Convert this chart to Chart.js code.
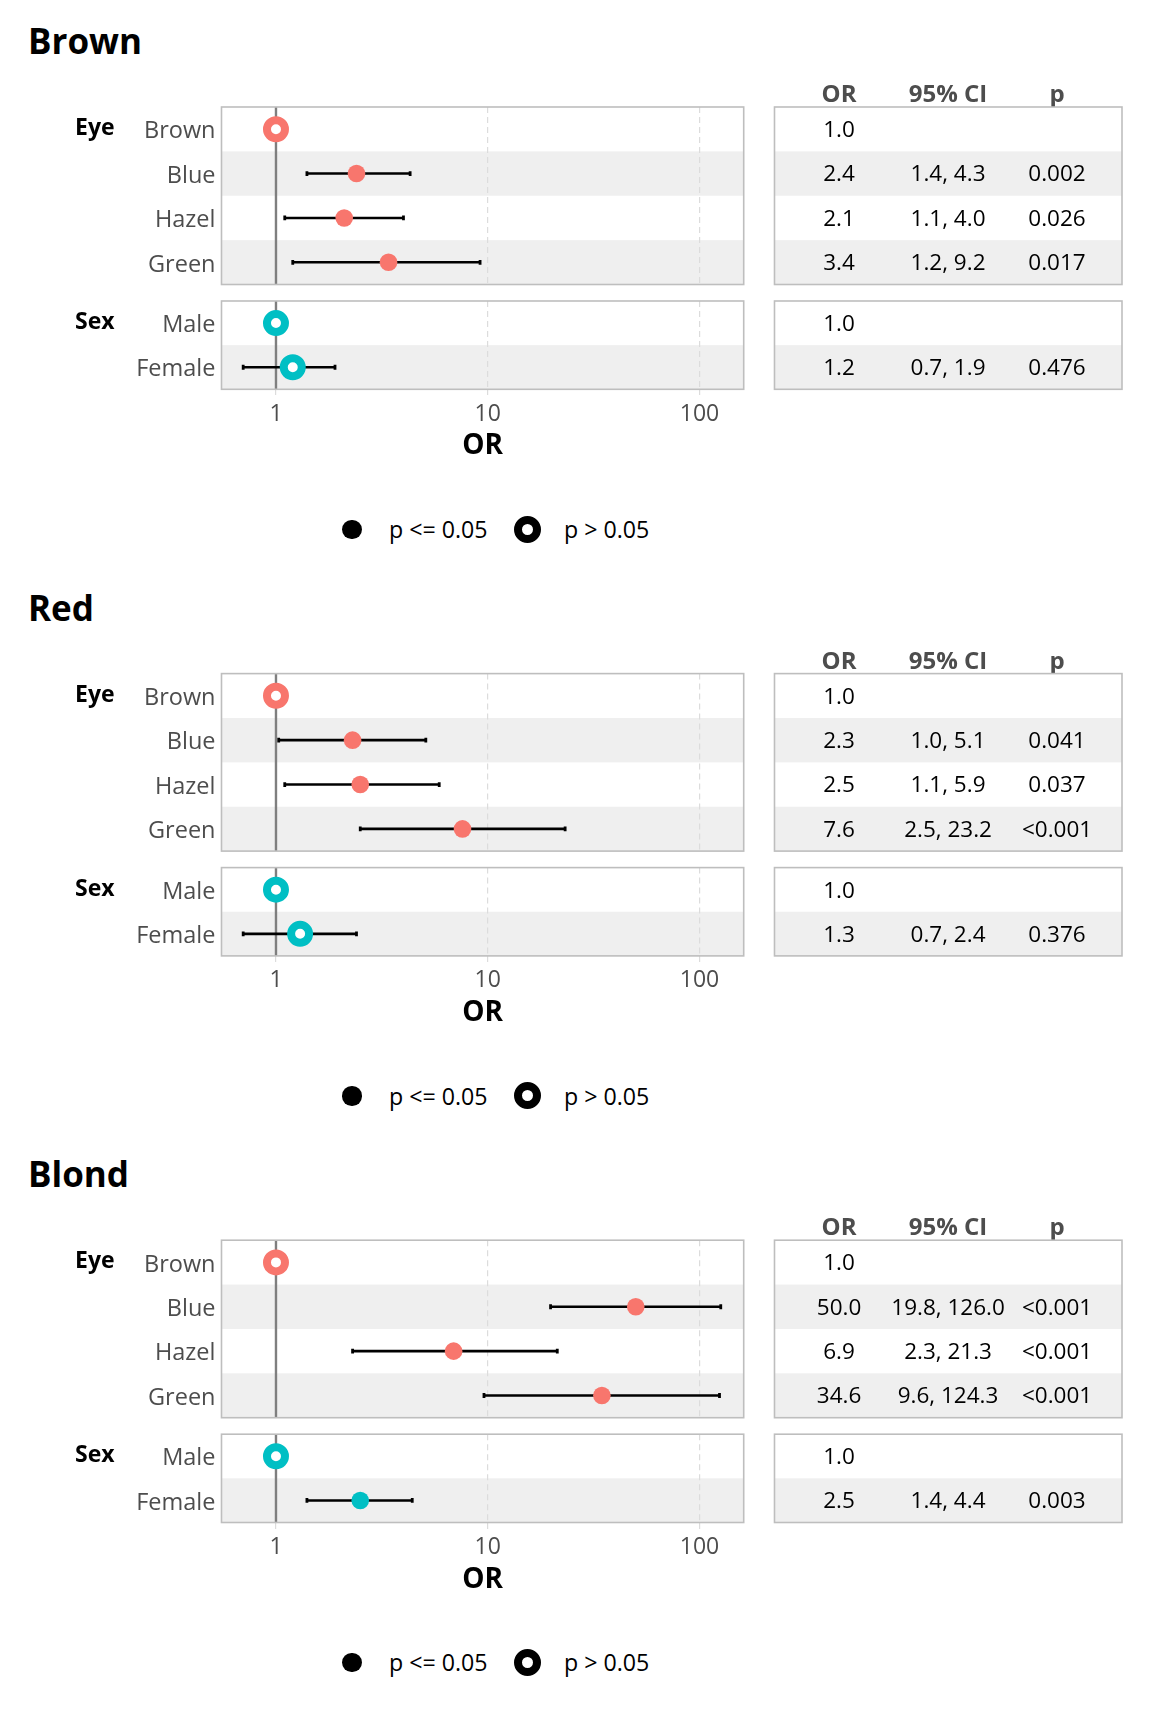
<!DOCTYPE html>
<html>
<head>
<meta charset="utf-8">
<title>Odds ratios by hair colour</title>
<script src="https://cdn.jsdelivr.net/npm/chart.js@4.4.1/dist/chart.umd.min.js"></script>
<style>
  body { margin: 0; background: #fff; }
  #page { position: relative; width: 1152px; height: 1728px; overflow: hidden; font-family: "Open Sans", sans-serif; }
  .box { position: absolute; }
  .txt { position: absolute; line-height: 0; white-space: nowrap; }
  .title { font-size: 35px; font-weight: 700; color: #000; }
  .legend-text { font-size: 23.2px; color: #000; }
  .dot { position: absolute; border-radius: 50%; box-sizing: border-box; }
</style>
</head>
<body>
<div id="page"></div>
<script>
// ---- data ----
const hairColours = ['Brown', 'Red', 'Blond'];
const eyeLevels = ['Brown', 'Blue', 'Hazel', 'Green'];
const sexLevels = ['Male', 'Female'];
const tableHeaders = ['OR', '95% CI', 'p'];
const xTicks = [1, 10, 100];
const legendLabels = ['p <= 0.05', 'p > 0.05'];

// one row per hair colour, first level is the reference
const eyeOR = [[1.0, 2.4, 2.1, 3.4], [1.0, 2.3, 2.5, 7.6], [1.0, 50.0, 6.9, 34.6]];
const eyeLow = [[null, 1.4, 1.1, 1.2], [null, 1.03, 1.1, 2.5], [null, 19.8, 2.3, 9.6]];
const eyeHigh = [[null, 4.3, 4.0, 9.2], [null, 5.1, 5.9, 23.2], [null, 126.0, 21.3, 124.3]];
const eyeP = [['', '0.002', '0.026', '0.017'], ['', '0.041', '0.037', '<0.001'], ['', '<0.001', '<0.001', '<0.001']];

const sexOR = [[1.0, 1.2], [1.0, 1.3], [1.0, 2.5]];
const sexLow = [[null, 0.7], [null, 0.7], [null, 1.4]];
const sexHigh = [[null, 1.9], [null, 2.4], [null, 4.4]];
const sexP = [['', '0.476'], ['', '0.376'], ['', '0.003']];

// ---- layout ----
const SECTION_H = 566.6;
const FOREST = { canvasW: 760, left: 221.5, right: 743.7 };
const TABLE = { canvasLeft: 760, canvasW: 392, left: 774.5, right: 1122 };
const PANELS = [{ top: 107, bottom: 284.5 }, { top: 301, bottom: 389.3 }];
const X_MIN = 0.553, X_MAX = 161.7;
const COL_MIN = -0.592, COL_MAX = 2.596;

const EYE_COLOUR = '#F8766D';
const SEX_COLOUR = '#00BFC4';
const SHADE = '#efefef';
const FRAME = '#bebebe';
const FONT = '"Open Sans", sans-serif';

Chart.defaults.font.family = FONT;
Chart.defaults.font.size = 22.5;
Chart.defaults.color = '#4d4d4d';

const page = document.getElementById('page');

function significant(p) {
    return p !== '' && (p.charAt(0) === '<' || parseFloat(p) <= 0.05);
}

function addCanvas(left, top, w, h) {
    const d = document.createElement('div');
    d.className = 'box';
    d.style.cssText = `left:${left}px;top:${top}px;width:${w}px;height:${h}px`;
    const c = document.createElement('canvas');
    d.appendChild(c);
    page.appendChild(d);
    return c;
}

function addText(text, cls, left, top) {
    const d = document.createElement('div');
    d.className = 'txt ' + cls;
    d.style.left = left + 'px';
    d.style.top = top + 'px';
    d.textContent = text;
    page.appendChild(d);
}

function addDot(cx, cy, size, border) {
    const d = document.createElement('div');
    d.className = 'dot';
    d.style.cssText = `left:${cx - size / 2}px;top:${cy - size / 2}px;width:${size}px;height:${size}px;` +
        (border ? `border:${border}px solid #000;background:#fff` : 'background:#000');
    page.appendChild(d);
}

// shaded rows, frame, group label and table text
function panelPlugin(rows, group, cells) {
    return {
        id: 'panel',
        beforeDraw(chart) {
            const { ctx, chartArea: a, scales: { y } } = chart;
            ctx.save();
            ctx.fillStyle = SHADE;
            for (let i = 1; i < rows; i += 2) {
                const t = y.getPixelForValue(i - 0.5), b = y.getPixelForValue(i + 0.5);
                ctx.fillRect(a.left, t, a.right - a.left, b - t);
            }
            ctx.restore();
        },
        afterDraw(chart) {
            const { ctx, chartArea: a, scales: { x, y } } = chart;
            ctx.save();
            ctx.textBaseline = 'middle';
            if (cells) {
                ctx.font = '22.5px ' + FONT;
                ctx.fillStyle = '#000';
                ctx.textAlign = 'center';
                cells.forEach((row, i) => row.forEach((txt, j) => {
                    ctx.fillText(txt, x.getPixelForValue(j), y.getPixelForValue(i) + 1.5);
                }));
            }
            if (group) {
                ctx.font = 'bold 23px ' + FONT;
                ctx.fillStyle = '#000';
                ctx.textAlign = 'left';
                ctx.fillText(group, 75, y.getPixelForValue(0) - 0.5);
            }
            ctx.strokeStyle = FRAME;
            ctx.lineWidth = 1.6;
            ctx.strokeRect(a.left, a.top, a.right - a.left, a.bottom - a.top);
            ctx.restore();
        }
    };
}

function frame(panel, topAxis, bottomAxis) {
    const canvasTop = Math.floor(panel.top - (topAxis || 8));
    const canvasBottom = Math.ceil(panel.bottom + bottomAxis + 6);
    return {
        canvasTop: canvasTop,
        height: canvasBottom - canvasTop,
        padTop: topAxis ? 0 : panel.top - canvasTop,
        topAxisH: panel.top - canvasTop,
        padBottom: canvasBottom - panel.bottom - bottomAxis
    };
}

function forestChart(panel, labels, or, low, high, p, colour, group, withAxis) {
    const bottomAxis = withAxis ? 74 : 0;
    const f = frame(panel, 0, bottomAxis);
    const canvas = addCanvas(0, f.canvasTop, FOREST.canvasW, f.height);
    const n = labels.length;

    const datasets = [{
        data: or.map((v, i) => ({ x: v, y: i })),
        pointRadius: p.map(q => significant(q) ? 8.8 : 9),
        pointBorderWidth: p.map(q => significant(q) ? 0 : 8),
        pointBackgroundColor: p.map(q => significant(q) ? colour : '#fff'),
        pointBorderColor: colour,
        order: 0
    }];
    low.forEach((lo, i) => {
        if (lo === null) return;
        datasets.push({
            data: [{ x: lo, y: i }, { x: high[i], y: i }],
            showLine: true,
            borderColor: '#000',
            borderWidth: 2.6,
            pointStyle: 'line',
            pointRotation: 90,
            pointRadius: 2.4,
            pointBorderWidth: 2.8,
            pointBorderColor: '#000',
            order: 1
        });
    });
    // reference line at OR = 1
    datasets.push({
        data: [{ x: 1, y: -0.5 }, { x: 1, y: n - 0.5 }],
        showLine: true,
        borderColor: '#7f7f7f',
        borderWidth: 2.4,
        pointRadius: 0,
        order: 2
    });

    new Chart(canvas, {
        type: 'scatter',
        data: { datasets },
        options: {
            responsive: true,
            maintainAspectRatio: false,
            animation: false,
            events: [],
            layout: { autoPadding: false, padding: { left: 0, right: FOREST.canvasW - FOREST.right, top: f.padTop, bottom: f.padBottom } },
            plugins: { legend: { display: false }, tooltip: { enabled: false } },
            scales: {
                x: {
                    type: 'logarithmic',
                    min: X_MIN,
                    max: X_MAX,
                    afterBuildTicks: s => { s.ticks = xTicks.map(v => ({ value: v })); },
                    afterFit: s => { s.height = bottomAxis; s.paddingLeft = 0; s.paddingRight = 0; },
                    ticks: { display: withAxis, padding: 3, color: '#4d4d4d', font: { size: 23 }, callback: v => String(v) },
                    grid: { color: '#dcdcdc', lineWidth: 1.2, drawTicks: withAxis, tickLength: 8, tickColor: '#dcdcdc', tickBorderDash: [6, 4] },
                    border: { display: false, dash: [6, 4] },
                    title: { display: withAxis, text: 'OR', color: '#000', font: { size: 28, weight: 'bold' }, padding: { top: 0, bottom: 0 } }
                },
                y: {
                    type: 'linear',
                    min: -0.5,
                    max: n - 0.5,
                    reverse: true,
                    afterBuildTicks: s => { s.ticks = labels.map((_, i) => ({ value: i })); },
                    afterFit: s => { s.width = FOREST.left; s.paddingTop = 0; s.paddingBottom = 0; },
                    ticks: { padding: 6, labelOffset: 2.5, color: '#4d4d4d', font: { size: 23.5 }, callback: (v, i) => labels[i] },
                    grid: { display: false, drawTicks: false },
                    border: { display: false }
                }
            }
        },
        plugins: [panelPlugin(n, group, null)]
    });
}

function tableChart(panel, or, low, high, p, withHeader) {
    const f = frame(panel, withHeader ? 47 : 0, 0);
    const canvas = addCanvas(TABLE.canvasLeft, f.canvasTop, TABLE.canvasW, f.height);
    const n = or.length;
    const cells = or.map((v, i) => [
        v.toFixed(1),
        low[i] === null ? '' : `${low[i].toFixed(1)}, ${high[i].toFixed(1)}`,
        p[i]
    ]);

    new Chart(canvas, {
        type: 'scatter',
        data: { datasets: [] },
        options: {
            responsive: true,
            maintainAspectRatio: false,
            animation: false,
            events: [],
            layout: {
                autoPadding: false,
                padding: {
                    left: TABLE.left - TABLE.canvasLeft,
                    right: TABLE.canvasLeft + TABLE.canvasW - TABLE.right,
                    top: f.padTop,
                    bottom: f.padBottom
                }
            },
            plugins: { legend: { display: false }, tooltip: { enabled: false } },
            scales: {
                x: {
                    type: 'linear',
                    position: 'top',
                    display: withHeader,
                    min: COL_MIN,
                    max: COL_MAX,
                    afterBuildTicks: s => { s.ticks = tableHeaders.map((_, i) => ({ value: i })); },
                    afterFit: s => { s.height = withHeader ? f.topAxisH : 0; s.paddingLeft = 0; s.paddingRight = 0; },
                    ticks: { padding: -2.5, color: '#4d4d4d', font: { size: 24, weight: 'bold' }, callback: (v, i) => tableHeaders[i] },
                    grid: { display: false, drawTicks: false },
                    border: { display: false }
                },
                y: { type: 'linear', display: false, min: -0.5, max: n - 0.5, reverse: true }
            }
        },
        plugins: [panelPlugin(n, null, cells)]
    });
}

function addLegend(oy) {
    const cy = oy + 529.3;
    addDot(352, cy, 19.4, 0);
    addText(legendLabels[0], 'legend-text', 389, cy - 0.3);
    addDot(527, cy, 27, 8);
    addText(legendLabels[1], 'legend-text', 564, cy - 0.3);
}

hairColours.forEach((hair, s) => {
    const oy = s * SECTION_H;
    const eyePanel = { top: oy + PANELS[0].top, bottom: oy + PANELS[0].bottom };
    const sexPanel = { top: oy + PANELS[1].top, bottom: oy + PANELS[1].bottom };

    addText(hair, 'title', 28, oy + 41.2);
    forestChart(eyePanel, eyeLevels, eyeOR[s], eyeLow[s], eyeHigh[s], eyeP[s], EYE_COLOUR, 'Eye', false);
    forestChart(sexPanel, sexLevels, sexOR[s], sexLow[s], sexHigh[s], sexP[s], SEX_COLOUR, 'Sex', true);
    tableChart(eyePanel, eyeOR[s], eyeLow[s], eyeHigh[s], eyeP[s], true);
    tableChart(sexPanel, sexOR[s], sexLow[s], sexHigh[s], sexP[s], false);
    addLegend(oy);
});
</script>
</body>
</html>
